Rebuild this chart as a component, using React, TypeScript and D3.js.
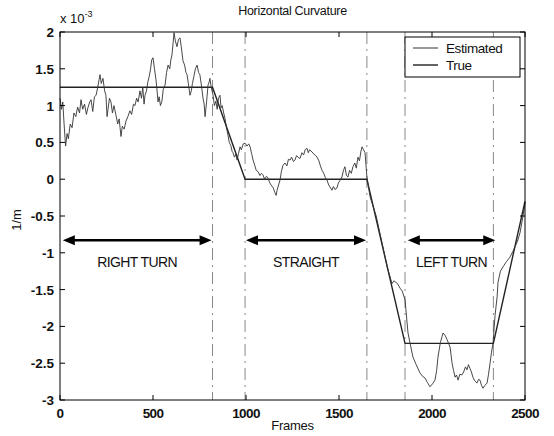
import React from "react";
import * as d3 from "d3";

const estFrames = [0,8,15,22,30,38,45,55,65,75,85,95,105,113,122,132,142,150,160,167,176,185,194,203,210,215,222,231,240,247,253,258,266,274,282,290,301,310,318,323,328,335,345,355,365,376,385,395,403,412,420,430,438,445,452,457,465,473,480,487,493,500,508,516,522,527,533,540,548,555,565,573,581,590,596,602,608,613,620,629,637,645,652,661,670,677,683,690,699,706,712,720,728,737,745,752,760,769,775,780,788,796,802,806,813,823,830,838,845,852,860,866,872,880,887,895,903,910,918,925,930,938,945,952,960,968,975,985,995,1005,1015,1022,1030,1038,1048,1055,1065,1075,1083,1091,1100,1110,1118,1128,1135,1145,1155,1162,1167,1175,1183,1190,1199,1210,1220,1228,1237,1245,1255,1263,1272,1280,1290,1301,1310,1318,1328,1335,1342,1355,1365,1375,1382,1392,1400,1409,1418,1427,1435,1445,1455,1462,1470,1478,1489,1497,1505,1516,1524,1532,1540,1548,1557,1566,1575,1585,1593,1602,1610,1618,1624,1632,1640,1650,1667,1700,1730,1760,1785,1795,1805,1815,1828,1840,1855,1871,1882,1898,1915,1935,1950,1962,1975,1989,2003,2016,2025,2032,2045,2054,2059,2070,2081,2097,2103,2108,2116,2124,2132,2140,2150,2161,2170,2180,2188,2196,2204,2212,2220,2230,2242,2250,2258,2266,2274,2285,2296,2304,2312,2320,2328,2339,2350,2355,2368,2382,2400,2419,2435,2446,2460,2473,2488,2500];
const estValues = [1.10,0.95,1.05,0.75,0.45,0.62,0.55,0.75,0.70,0.90,0.85,0.98,0.90,1.08,0.95,1.02,0.88,0.97,1.05,1.08,0.92,1.12,1.14,1.25,1.35,1.42,1.30,1.37,1.20,1.14,0.85,0.95,1.10,1.05,0.90,1.00,0.87,0.75,0.82,0.70,0.58,0.72,0.68,0.79,0.85,0.93,0.88,1.02,1.00,1.10,1.05,1.20,1.10,1.25,1.02,1.14,1.20,1.33,1.40,1.50,1.62,1.65,1.50,1.35,1.20,1.05,1.12,1.00,1.06,1.22,1.28,1.45,1.55,1.50,1.62,1.69,1.85,1.99,1.88,1.80,1.90,1.92,1.80,1.61,1.55,1.45,1.42,1.30,1.14,1.20,1.30,1.40,1.50,1.55,1.45,1.42,1.28,1.10,1.02,0.85,1.05,1.28,1.32,1.37,1.25,1.14,1.00,1.06,0.95,1.10,1.14,0.97,1.00,0.90,0.83,0.70,0.60,0.50,0.46,0.38,0.36,0.30,0.34,0.26,0.35,0.44,0.40,0.48,0.49,0.45,0.48,0.44,0.35,0.26,0.18,0.12,0.10,0.05,0.08,0.06,0.00,0.04,0.02,-0.05,-0.08,-0.11,-0.18,-0.22,-0.15,-0.08,-0.01,0.10,0.19,0.22,0.18,0.27,0.26,0.30,0.24,0.26,0.32,0.30,0.28,0.36,0.33,0.40,0.42,0.36,0.40,0.37,0.34,0.32,0.30,0.25,0.18,0.12,0.08,0.02,-0.01,-0.08,-0.12,-0.15,-0.10,-0.14,-0.12,-0.05,-0.02,0.03,0.12,0.17,0.05,0.03,0.12,0.08,0.17,0.22,0.15,0.30,0.25,0.38,0.44,0.40,0.36,0.03,-0.24,-0.50,-0.85,-1.20,-1.42,-1.38,-1.40,-1.42,-1.48,-1.52,-1.64,-2.09,-2.23,-2.42,-2.52,-2.63,-2.68,-2.70,-2.76,-2.82,-2.78,-2.73,-2.60,-2.42,-2.22,-2.14,-2.09,-2.12,-2.18,-2.28,-2.40,-2.50,-2.60,-2.69,-2.66,-2.73,-2.65,-2.66,-2.62,-2.55,-2.59,-2.52,-2.57,-2.62,-2.69,-2.74,-2.77,-2.72,-2.73,-2.80,-2.84,-2.80,-2.77,-2.65,-2.50,-2.35,-2.23,-1.85,-1.60,-1.40,-1.25,-1.19,-1.12,-1.06,-0.98,-0.92,-0.84,-0.73,-0.52,-0.32];

const trueFrames = [0, 820, 995, 1650, 1855, 2330, 2500];
const trueValues = [1.25, 1.25, 0, 0, -2.23, -2.23, -0.3];

const phaseLines = [820, 995, 1650, 1855, 2330];
const arrowStarts = [15, 1000, 1870];
const arrowEnds = [815, 1645, 2340];
const arrowLabels = ["RIGHT TURN", "STRAIGHT", "LEFT TURN"];
const arrowLevel = -0.83;
const labelLevel = -1.13;

const xTicks = [0, 500, 1000, 1500, 2000, 2500];
const yTicks = [2, 1.5, 1, 0.5, 0, -0.5, -1, -1.5, -2, -2.5, -3];
const legendLabels = ["Estimated", "True"];

const W = 554, H = 436;
const L = 60, R = 525, T = 32, B = 400;

export default function App() {
  const x = d3.scaleLinear().domain([0, 2500]).range([L, R]);
  const y = d3.scaleLinear().domain([-3, 2]).range([B, T]);
  const est = estFrames.map((f, i) => [f, estValues[i]] as [number, number]);
  const tru = trueFrames.map((f, i) => [f, trueValues[i]] as [number, number]);
  const line = d3.line<[number, number]>().x(d => x(d[0])).y(d => y(d[1]));
  const font = "'Liberation Sans', Arial, sans-serif";
  const tick = 5;
  const ah = 12, aw = 5;
  return (
    <svg width={W} height={H} style={{ position: "absolute", left: 0, top: 0, background: "#fff" }} fontFamily={font}>
      <rect x={0} y={0} width={W} height={H} fill="#fff" />
      {phaseLines.map((f, i) => (
        <line key={i} x1={x(f)} x2={x(f)} y1={T} y2={B} stroke="#888" strokeWidth={1} strokeDasharray="12,5,2,5" />
      ))}
      <path d={line(tru) || ""} fill="none" stroke="#222" strokeWidth={1.4} />
      <path d={line(est) || ""} fill="none" stroke="#333" strokeWidth={0.9} />
      <rect x={L} y={T} width={R - L} height={B - T} fill="none" stroke="#000" strokeWidth={1} />
      {xTicks.map((t, i) => (
        <g key={i}>
          <line x1={x(t)} x2={x(t)} y1={B} y2={B - tick} stroke="#000" />
          <line x1={x(t)} x2={x(t)} y1={T} y2={T + tick} stroke="#000" />
          <text x={x(t)} y={B + 18} textAnchor="middle" fontSize={13.5} fontWeight="bold" fill="#111" letterSpacing={-0.6}>{t}</text>
        </g>
      ))}
      {yTicks.map((t, i) => (
        <g key={i}>
          <line x1={L} x2={L + tick} y1={y(t)} y2={y(t)} stroke="#000" />
          <line x1={R} x2={R - tick} y1={y(t)} y2={y(t)} stroke="#000" />
          <text x={L - 6} y={y(t) + 5} textAnchor="end" fontSize={13.5} fontWeight="bold" fill="#111">{t}</text>
        </g>
      ))}
      {arrowStarts.map((s, i) => {
        const x1 = x(s), x2 = x(arrowEnds[i]), yy = y(arrowLevel);
        return (
          <g key={i}>
            <line x1={x1 + ah - 2} x2={x2 - ah + 2} y1={yy} y2={yy} stroke="#000" strokeWidth={2.5} />
            <path d={`M${x1},${yy} L${x1 + ah},${yy - aw} L${x1 + ah},${yy + aw} Z`} fill="#000" />
            <path d={`M${x2},${yy} L${x2 - ah},${yy - aw} L${x2 - ah},${yy + aw} Z`} fill="#000" />
            <text x={(x1 + x2) / 2} y={y(labelLevel) + 5} textAnchor="middle" fontSize={14} fill="#111" letterSpacing={-0.6}>{arrowLabels[i]}</text>
          </g>
        );
      })}
      <rect x={405} y={37} width={115} height={40} fill="#fff" stroke="#000" strokeWidth={1} />
      <line x1={413} x2={438} y1={48} y2={48} stroke="#333" strokeWidth={1} />
      <line x1={413} x2={438} y1={65} y2={65} stroke="#222" strokeWidth={1.4} />
      <text x={446} y={53} fontSize={13.5} fill="#111" letterSpacing={-0.4}>{legendLabels[0]}</text>
      <text x={446} y={70} fontSize={13.5} fill="#111" letterSpacing={-0.4}>{legendLabels[1]}</text>
      <text x={(L + R) / 2} y={15} textAnchor="middle" fontSize={12.5} fill="#111" letterSpacing={-0.3}>Horizontal Curvature</text>
      <text x={L} y={23} fontSize={13} fill="#111">x 10<tspan dy={-6} fontSize={9}>-3</tspan></text>
      <text x={(L + R) / 2} y={430} textAnchor="middle" fontSize={13} fill="#111" letterSpacing={-0.3}>Frames</text>
      <text transform={`translate(21,${(T + B) / 2 + 4}) rotate(-90)`} textAnchor="middle" fontSize={13} fill="#111">1/m</text>
    </svg>
  );
}
